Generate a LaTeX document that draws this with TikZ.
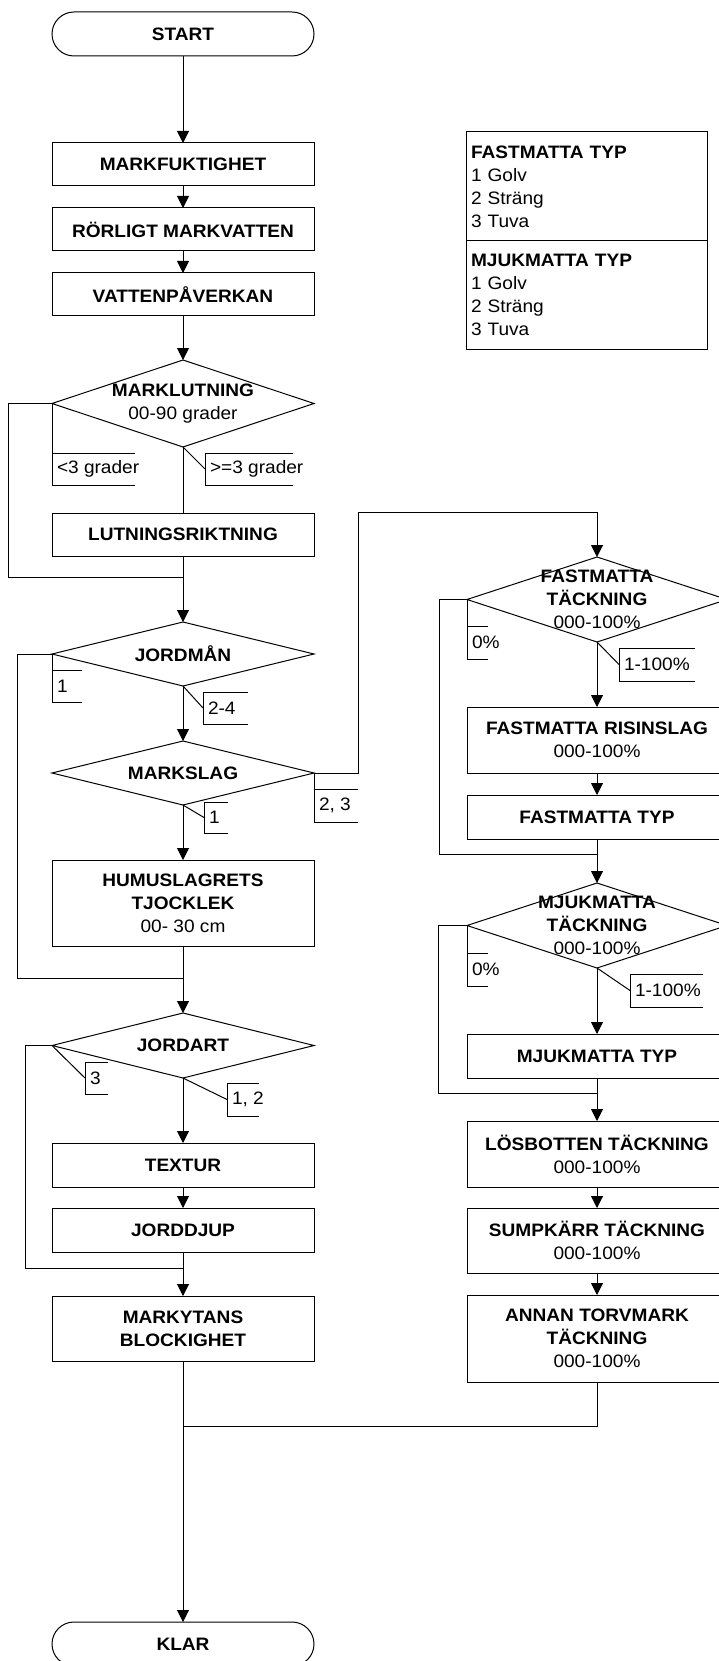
\documentclass[tikz,border=0pt]{standalone}
\usepackage{fontspec}
\setmainfont{Liberation Sans}[FakeStretch=1.06]
\usetikzlibrary{shapes.geometric,arrows.meta}
\newcommand\mybrk[6]{%
  \node[anchor=west, inner xsep=5pt, inner ysep=0pt] (#1) at (#2,{(#3+#4)/2}) {#6};
  \draw (#5,#3) -- (#2,#3) -- (#2,#4) -- (#5,#4);}
\begin{document}
\begin{tikzpicture}[x=1pt,y=-1pt, line width=1pt,
  every node/.style={font=\fontsize{18}{23}\selectfont, outer sep=0pt},
  box/.style={draw, rectangle, minimum width=262pt, align=center, inner sep=0pt},
  rbox/.style={box, minimum width=260pt},
  term/.style={draw, rectangle, rounded corners=22pt, minimum width=262pt, minimum height=44pt, inner sep=0pt},
  dia/.style={draw, diamond, inner sep=0pt},
  arr/.style={-{Triangle[length=12pt,width=12pt]}},
  legend/.style={draw, anchor=north west, minimum width=241pt, text width=231pt, inner xsep=5pt, align=left}
]
\clip (0,0) rectangle (719,1661);
\fill[white] (0,0) rectangle (719,1661);

% ---------- left column ----------
\node[term] (start) at (183,34) {\bfseries START};
\node[box, minimum height=43pt] (mf) at (183,164.5) {\bfseries MARKFUKTIGHET};
\node[box, minimum height=43pt] (rm) at (183,229.5) {\bfseries RÖRLIGT MARKVATTEN};
\node[box, minimum height=43pt] (vp) at (183,294.5) {\bfseries VATTENPÅVERKAN};
\node[dia, minimum width=262pt, minimum height=87pt,
  label={[align=center]center:{\bfseries MARKLUTNING\\00-90 grader}}] (ml) at (183,403.5) {};
\node[box, minimum height=43pt] (lr) at (183,534.5) {\bfseries LUTNINGSRIKTNING};
\node[dia, minimum width=262pt, minimum height=64pt,
  label={center:{\bfseries JORDMÅN}}] (jm) at (183,654) {};
\node[dia, minimum width=262pt, minimum height=64pt,
  label={center:{\bfseries MARKSLAG}}] (ms) at (183,773) {};
\node[box, minimum height=86pt] (hu) at (183,903) {\bfseries HUMUSLAGRETS\\\bfseries TJOCKLEK\\00- 30 cm};
\node[dia, minimum width=262pt, minimum height=65pt,
  label={center:{\bfseries JORDART}}] (ja) at (183,1045.5) {};
\node[box, minimum height=44pt] (tx) at (183,1165) {\bfseries TEXTUR};
\node[box, minimum height=44pt] (jd) at (183,1230) {\bfseries JORDDJUP};
\node[box, minimum height=65pt] (my) at (183,1328.5) {\bfseries MARKYTANS\\\bfseries BLOCKIGHET};
\node[term] (klar) at (183,1644) {\bfseries KLAR};

% ---------- legend ----------
\node[legend, minimum height=109pt] (lg1) at (466,132) {\textbf{FASTMATTA TYP}\\1 Golv\\2 Sträng\\3 Tuva};
\node[legend, minimum height=108pt] (lg2) at (466,241) {\textbf{MJUKMATTA TYP}\\1 Golv\\2 Sträng\\3 Tuva};

% ---------- right column ----------
\node[dia, minimum width=260pt, minimum height=85pt,
  label={[align=center]center:{\bfseries FASTMATTA\\\bfseries TÄCKNING\\000-100\%}}] (ft) at (597,599.5) {};
\node[rbox, minimum height=66pt] (fr) at (597,740) {\bfseries FASTMATTA RISINSLAG\\000-100\%};
\node[rbox, minimum height=44pt] (fty) at (597,817) {\bfseries FASTMATTA TYP};
\node[dia, minimum width=260pt, minimum height=85pt,
  label={[align=center]center:{\bfseries MJUKMATTA\\\bfseries TÄCKNING\\000-100\%}}] (mt) at (597,925.5) {};
\node[rbox, minimum height=44pt] (mty) at (597,1056) {\bfseries MJUKMATTA TYP};
\node[rbox, minimum height=66pt] (lb) at (597,1154) {\bfseries LÖSBOTTEN TÄCKNING\\000-100\%};
\node[rbox, minimum height=65pt] (sk) at (597,1240.5) {\bfseries SUMPKÄRR TÄCKNING\\000-100\%};
\node[rbox, minimum height=87pt] (at) at (597,1338.5) {\bfseries ANNAN TORVMARK\\\bfseries TÄCKNING\\000-100\%};

% ---------- junction points ----------
\coordinate (j1) at (183,577);
\coordinate (j2) at (183,978);
\coordinate (j3) at (183,1268);
\coordinate (j4) at (597,854);
\coordinate (j5) at (597,1093);
\coordinate (j6) at (183,1426);

% ---------- connectors left ----------
\draw[arr] (start.south) -- (mf.north);
\draw[arr] (mf.south) -- (rm.north);
\draw[arr] (rm.south) -- (vp.north);
\draw[arr] (vp.south) -- (ml.north);
\draw (ml.south) -- (lr.north);
\draw (ml.west) -- (8,403.5) |- (j1);
\draw[arr] (lr.south) -- (jm.north);
\draw[arr] (jm.south) -- (ms.north);
\draw (jm.west) -- (17,654) |- (j2);
\draw[arr] (ms.south) -- (hu.north);
\draw[arr] (ms.east) -- (358,773) -- (358,512) -| (ft.north);
\draw[arr] (hu.south) -- (ja.north);
\draw (ja.west) -- (25,1045.5) |- (j3);
\draw[arr] (ja.south) -- (tx.north);
\draw[arr] (tx.south) -- (jd.north);
\draw[arr] (jd.south) -- (my.north);
\draw[arr] (my.south) -- (klar.north);

% ---------- connectors right ----------
\draw[arr] (ft.south) -- (fr.north);
\draw[arr] (fr.south) -- (fty.north);
\draw[arr] (fty.south) -- (mt.north);
\draw (ft.west) -- (439,599.5) |- (j4);
\draw[arr] (mt.south) -- (mty.north);
\draw (mt.west) -- (438,925.5) |- (j5);
\draw[arr] (mty.south) -- (lb.north);
\draw[arr] (lb.south) -- (sk.north);
\draw[arr] (sk.south) -- (at.north);
\draw (at.south) |- (j6);

% ---------- branch labels ----------
\mybrk{b1}{52}{453}{485}{135}{<3 grader}
\draw (ml.west) -- (b1.west);
\mybrk{b2}{205}{453}{485}{293}{>=3 grader}
\draw (ml.south) -- (b2.west);
\mybrk{b3}{52}{670}{702}{82}{1}
\draw (jm.west) -- (b3.west);
\mybrk{b4}{203}{692}{724}{248}{2-4}
\draw (jm.south) -- (b4.west);
\mybrk{b5}{314}{789}{822}{358}{2, 3}
\draw (ms.east) -- (b5.west);
\mybrk{b6}{204}{802}{833}{228}{1}
\draw (ms.south) -- (b6.west);
\mybrk{b7}{85}{1062}{1094}{108}{3}
\draw (ja.west) -- (b7.west);
\mybrk{b8}{227}{1083}{1116}{259}{1, 2}
\draw (ja.south) -- (b8.west);
\mybrk{b9}{467}{626}{659}{488}{0\%}
\draw (ft.west) -- (b9.west);
\mybrk{b10}{619}{648}{681}{695}{1-100\%}
\draw (ft.south) -- (b10.west);
\mybrk{b11}{467}{953}{986}{488}{0\%}
\draw (mt.west) -- (b11.west);
\mybrk{b12}{630}{974}{1007}{703}{1-100\%}
\draw (mt.south) -- (b12.west);
\end{tikzpicture}
\end{document}
